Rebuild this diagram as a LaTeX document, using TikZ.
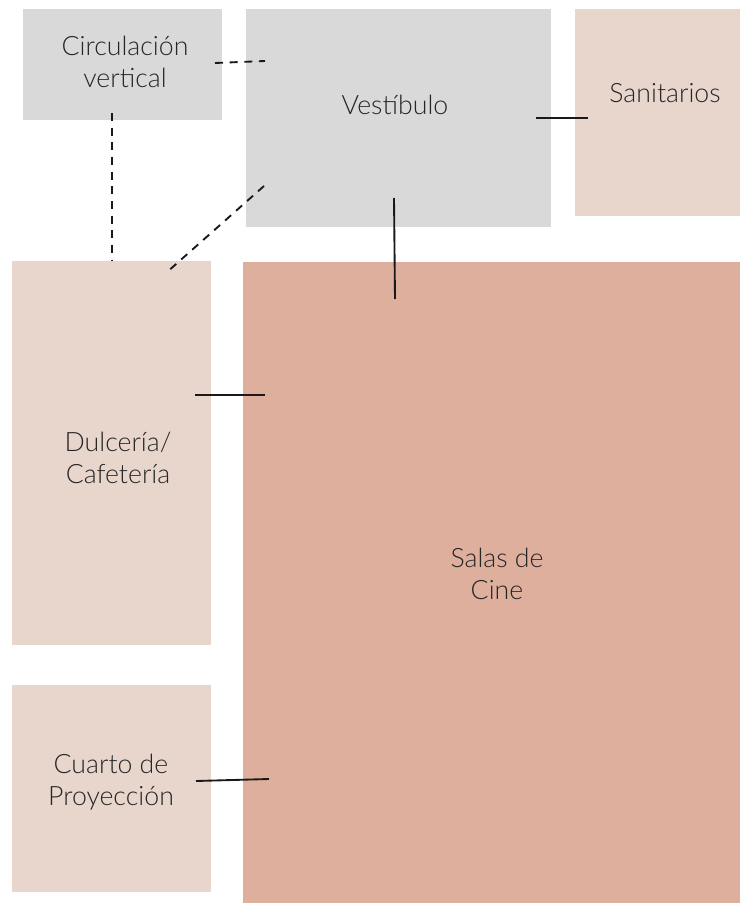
\documentclass[tikz,border=0pt]{standalone}
\usepackage{fontspec}
\setmainfont{Lato Light}
\usetikzlibrary{positioning}
\definecolor{cgray}{RGB}{217, 217, 217}
\definecolor{cpale}{RGB}{232, 214, 205}
\definecolor{crose}{RGB}{222, 175, 157}
\tikzset{
  zone/.style={draw=none, inner sep=0pt, outer sep=0pt},
  tag/.style={font=\fontsize{20}{24}\selectfont, align=center, text=black!85},
  link/.style={line width=1.4pt, draw=black!90},
  dlink/.style={link, dash pattern=on 6pt off 5pt},
}
\begin{document}
\begin{tikzpicture}[x=0.75pt, y=-0.75pt]
\useasboundingbox (0,0) rectangle (740,903);

% ---------- zonas ----------
\node[zone, fill=cgray, minimum width=199*0.75pt, minimum height=111*0.75pt, anchor=north west] (circ) at (23,9) {};
\node[zone, fill=cgray, minimum width=305*0.75pt, minimum height=218*0.75pt, anchor=north west] (vest) at (246,9) {};
\node[zone, fill=cpale, minimum width=165*0.75pt, minimum height=207*0.75pt, anchor=north west] (sani) at (575,9) {};
\node[zone, fill=cpale, minimum width=199*0.75pt, minimum height=384*0.75pt, anchor=north west] (dulc) at (12,261) {};
\node[zone, fill=crose, minimum width=497*0.75pt, minimum height=641*0.75pt, anchor=north west] (salas) at (243,262) {};
\node[zone, fill=cpale, minimum width=199*0.75pt, minimum height=207*0.75pt, anchor=north west] (cuarto) at (12,685) {};

% ---------- textos ----------
\node[tag] (tcirc) at (125,62) {Circulación\\vertical};
\node[tag] (tvest) at (395,105) {Vestíbulo};
\node[tag] (tsani) at (665,93) {Sanitarios};
\node[tag] (tdulc) at (118,458) {Dulcería/\\Cafetería};
\node[tag] (tsalas) at (497,574) {Salas de\\Cine};
\node[tag] (tcuarto) at (111,782) {Cuarto de\\Proyección};

% ---------- extremos ----------
\coordinate (c1) at (215,63);  \coordinate (v1) at (265,61);
\coordinate (c2) at (112,113); \coordinate (d1) at (112,261);
\coordinate (v2) at (264,186); \coordinate (d2) at (166,273);
\coordinate (v3) at (536,118); \coordinate (s1) at (588,118);
\coordinate (v4) at (394,198); \coordinate (k1) at (395,299);
\coordinate (d3) at (195,395); \coordinate (k2) at (265,395);
\coordinate (p1) at (196,781); \coordinate (k3) at (269,779);

\draw[dlink] (c1) -- (v1);
\draw[dlink] (c2) -- (d1);
\draw[dlink] (v2) -- (d2);
\draw[link] (v3) -- (s1);
\draw[link] (v4) -- (k1);
\draw[link] (d3) -- (k2);
\draw[link] (p1) -- (k3);

\end{tikzpicture}
\end{document}
